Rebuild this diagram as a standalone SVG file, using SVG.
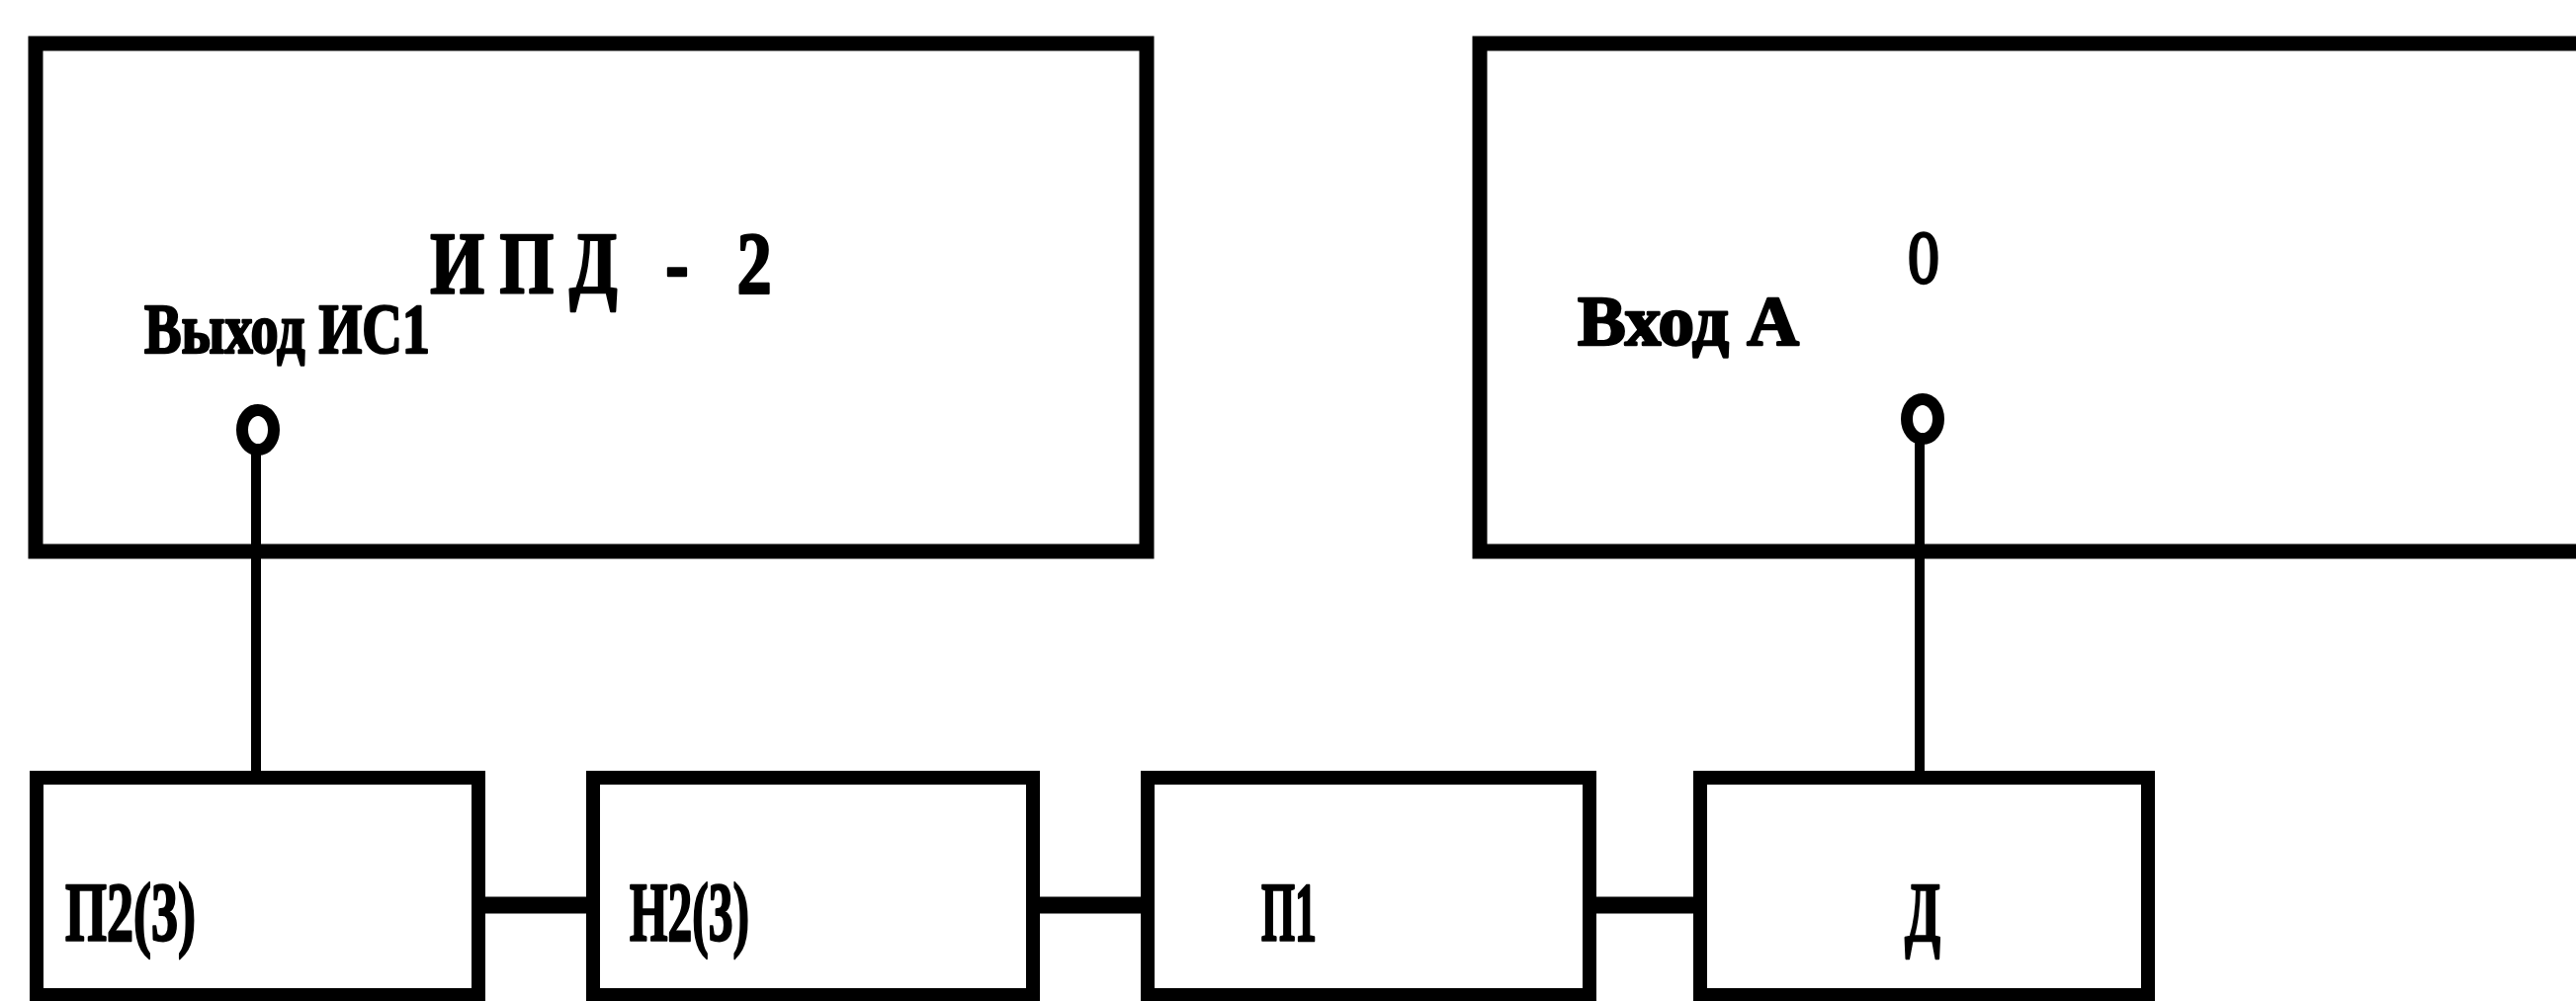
<svg xmlns="http://www.w3.org/2000/svg" width="2606" height="1013" viewBox="0 0 2606 1013">
<style>
.box{fill:none;stroke:#000;stroke-width:15;stroke-linejoin:miter}
.sbox{fill:none;stroke:#000;stroke-width:14}
.wire{fill:none;stroke:#000;stroke-width:10}
.bus{fill:none;stroke:#000;stroke-width:17}
.pin{fill:#fff;stroke:#000;stroke-width:12}
.t{font-family:"Liberation Serif","DejaVu Serif",serif;font-weight:bold;fill:#000;stroke:#000;stroke-width:2.5;stroke-linejoin:round}
</style>
<rect width="2606" height="1013" fill="#fff"/>
<g id="connectors">
<line class="wire" x1="259" y1="458" x2="259" y2="788"/>
<line class="wire" x1="1942" y1="446" x2="1942" y2="788"/>
<line class="bus" x1="484" y1="916" x2="600" y2="916"/>
<line class="bus" x1="1045" y1="916" x2="1161" y2="916"/>
<line class="bus" x1="1608" y1="916" x2="1720" y2="916"/>
</g>
<g id="ipd2">
<rect class="box" x="36" y="44" width="1124" height="514"/>
<text class="t" transform="scale(0.8,1)" x="544" y="296" font-size="88" textLength="432" lengthAdjust="spacing">ИПД - 2</text>
<text class="t" x="146" y="357" font-size="72" textLength="289" lengthAdjust="spacingAndGlyphs">Выход ИС1</text>
<ellipse class="pin" cx="261" cy="435" rx="16" ry="20"/>
</g>
<g id="o">
<path class="box" d="M2620,44 H1497 V558 H2620"/>
<text class="t" x="1930" y="286" font-size="76" textLength="32" lengthAdjust="spacingAndGlyphs">О</text>
<text class="t" x="1596" y="349" font-size="72" textLength="224" lengthAdjust="spacingAndGlyphs">Вход А</text>
<ellipse class="pin" cx="1945" cy="424" rx="16" ry="20"/>
</g>
<g id="p23">
<rect class="sbox" x="37" y="787" width="447" height="220"/>
<text class="t" x="66" y="952" font-size="85" textLength="132" lengthAdjust="spacingAndGlyphs">П2(3)</text>
</g>
<g id="n23">
<rect class="sbox" x="600" y="787" width="445" height="220"/>
<text class="t" x="637" y="952" font-size="85" textLength="121" lengthAdjust="spacingAndGlyphs">Н2(3)</text>
</g>
<g id="p1">
<rect class="sbox" x="1161" y="787" width="447" height="220"/>
<text class="t" x="1276" y="952" font-size="85" textLength="56" lengthAdjust="spacingAndGlyphs">П1</text>
</g>
<g id="d">
<rect class="sbox" x="1720" y="787" width="453" height="220"/>
<text class="t" x="1927" y="952" font-size="85" textLength="36" lengthAdjust="spacingAndGlyphs">Д</text>
</g>
</svg>
